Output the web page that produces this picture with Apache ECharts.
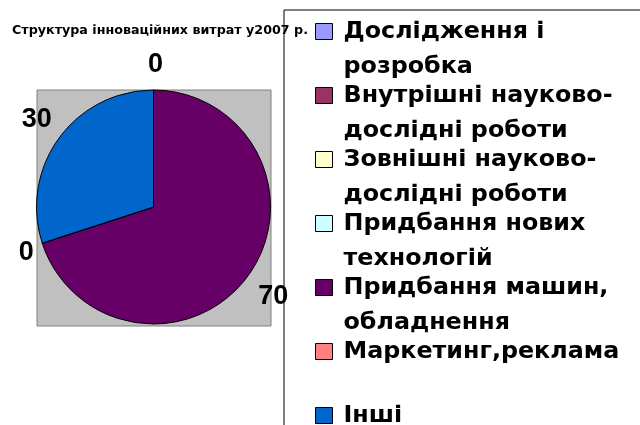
<!DOCTYPE html>
<html>
<head>
<meta charset="utf-8">
<script src="https://cdn.jsdelivr.net/npm/echarts@6/dist/echarts.min.js"></script>
<style>
html,body{margin:0;padding:0;background:#fff;}
#chart{width:640px;height:425px;}
</style>
</head>
<body>
<div id="chart"></div>
<script>
const titleText = 'Структура інноваційних витрат у2007 р.';
const categories = [
  'Дослідження і розробка',
  'Внутрішні науково-дослідні роботи',
  'Зовнішні науково-дослідні роботи',
  'Придбання нових технологій',
  'Придбання машин, обладнення',
  'Маркетинг,реклама',
  'Інші'
];
const legendLines = [
  'Дослідження і\nрозробка',
  'Внутрішні науково-\nдослідні роботи',
  'Зовнішні науково-\nдослідні роботи',
  'Придбання нових\nтехнологій',
  'Придбання машин,\nобладнення',
  'Маркетинг,реклама\n ',
  'Інші\n '
];
const values = [0, 0, 0, 0, 70, 0, 30];
const colors = ['#9999FF', '#993366', '#FFFFCC', '#CCFFFF', '#660066', '#FF8080', '#0066CC'];
// label placement styles per slice (distance from pie edge, shift toward the slice)
const labelLineLengths = [25, 25, 25, 25, 36, 31, 31];
const labelDistances = [-9.5, -9.5, -9.5, -9.5, -19, -21, -18];

const chart = echarts.init(document.getElementById('chart'), null, {renderer: 'canvas'});
chart.setOption({
  animation: false,
  backgroundColor: '#fff',
  title: {
    text: titleText,
    left: 12,
    top: 24,
    padding: 0,
    textStyle: {fontFamily: 'DejaVu Sans', fontWeight: 'bold', fontSize: 12.7, color: '#000'}
  },
  grid: {
    show: true, left: 37, top: 90, width: 234, height: 236,
    backgroundColor: '#C0C0C0', borderColor: '#808080', borderWidth: 1
  },
  xAxis: {type: 'value', show: false},
  yAxis: {type: 'value', show: false},
  legend: {
    orient: 'vertical',
    left: 284, top: 10, height: 800,
    padding: [4, 120, 0, 31],
    itemGap: -6,
    itemWidth: 17, itemHeight: 51,
    icon: 'path://M0,0H17V16H0ZM0,51',
    borderColor: '#000', borderWidth: 1,
    backgroundColor: 'transparent',
    selectedMode: false,
    itemStyle: {borderColor: '#000', borderWidth: 1},
    textStyle: {fontFamily: 'DejaVu Sans', fontWeight: 'bold', fontSize: 23.8, lineHeight: 35, color: '#000', padding: [0, 0, 0, 6]},
    formatter: function (name) { return legendLines[categories.indexOf(name)]; },
    data: categories
  },
  series: [{
    type: 'pie',
    center: [153.5, 207],
    radius: 117,
    startAngle: 90,
    clockwise: true,
    avoidLabelOverlap: false,
    label: {
      show: true, position: 'outside', formatter: '{c}',
      fontFamily: 'Liberation Sans', fontWeight: 'bold', fontSize: 27, color: '#000'
    },
    labelLine: {show: false, length: 31, length2: 0},
    itemStyle: {borderColor: '#000', borderWidth: 1},
    emphasis: {disabled: true},
    data: categories.map(function (n, i) {
      return {
        name: n, value: values[i],
        itemStyle: {color: colors[i]},
        label: {distanceToLabelLine: labelDistances[i]},
        labelLine: {show: false, length: labelLineLengths[i], length2: 0}
      };
    })
  }]
});
</script>
</body>
</html>
